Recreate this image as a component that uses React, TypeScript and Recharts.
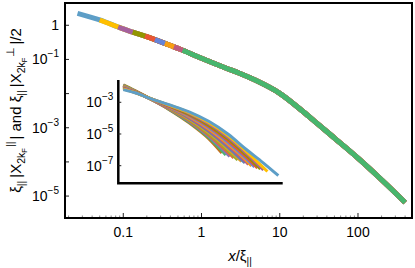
import React from 'react';
import { LineChart, Line, XAxis, YAxis } from 'recharts';

const FONT = '"Liberation Sans", Arial, sans-serif';
const W = 415;
const H = 268;

// big panel: one scaling curve, drawn by several overlapping pieces
const mainX = [0.026, 0.05, 0.086, 0.1, 0.132, 0.19, 0.254, 0.34, 0.444, 0.5, 0.574, 1, 2, 3, 5, 10, 20, 30, 50, 100, 200, 400];
const mainY = [2.24, 1.43, 0.89, 0.78, 0.63, 0.48, 0.38, 0.295, 0.234, 0.21, 0.186, 0.108, 0.057, 0.04, 0.024, 0.0102, 2.95e-3, 1.35e-3, 5.0e-4, 1.29e-4, 3.0e-5, 6.5e-6];
const mainStarts = [0.026, 0.05, 0.086, 0.132, 0.19, 0.254, 0.34, 0.444, 0.574];
const mainColors = ['#5D9EC7', '#FFBF00', '#A5609D', '#929600', '#E95536', '#6685D9', '#F89F13', '#BC5B80', '#47B66D'];

const mainXTicks = [0.1, 1, 10, 100];
const mainXLabels = [['0.1', ''], ['1', ''], ['10', ''], ['100', '']];
const mainXMinor = [0.02, 0.03, 0.04, 0.05, 0.06, 0.07, 0.08, 0.09, 0.2, 0.3, 0.4, 0.5, 0.6, 0.7, 0.8, 0.9, 2, 3, 4, 5, 6, 7, 8, 9, 20, 30, 40, 50, 60, 70, 80, 90, 200, 300, 400];
const mainYTicks = [1, 0.1, 0.01, 1e-3, 1e-4, 1e-5];
const mainYLabels = [['1', ''], ['10', '−1'], ['', ''], ['10', '−3'], ['', ''], ['10', '−5']];

// inset: raw curves, one row per curve at the shared x values, then its end point
const insetX = [10, 20, 53, 150, 500, 1600, 5000, 15000, 40000];
const insetY = [
  [1.26e-2, 5.4e-3, 1.51e-3, 3.55e-4, 5.01e-5, 5.01e-6],
  [1.2e-2, 5.2e-3, 1.52e-3, 3.72e-4, 5.62e-5, 6.03e-6],
  [1.15e-2, 5.1e-3, 1.53e-3, 3.89e-4, 6.31e-5, 7.24e-6, 5.01e-7],
  [1.1e-2, 5.0e-3, 1.54e-3, 4.07e-4, 7.08e-5, 8.71e-6, 7.08e-7],
  [1.05e-2, 4.9e-3, 1.55e-3, 4.37e-4, 7.94e-5, 1.02e-5, 9.33e-7],
  [1.0e-2, 4.8e-3, 1.56e-3, 4.57e-4, 8.91e-5, 1.23e-5, 1.17e-6],
  [9.5e-3, 4.7e-3, 1.57e-3, 4.79e-4, 1.0e-4, 1.48e-5, 1.51e-6],
  [9.1e-3, 4.6e-3, 1.58e-3, 5.01e-4, 1.12e-4, 1.78e-5, 1.91e-6, 1.66e-7],
  [8.7e-3, 4.5e-3, 1.59e-3, 5.25e-4, 1.26e-4, 2.14e-5, 2.4e-6, 2.14e-7],
  [8.3e-3, 4.4e-3, 1.6e-3, 5.5e-4, 1.41e-4, 2.57e-5, 3.02e-6, 2.75e-7],
  [7.9e-3, 4.3e-3, 1.61e-3, 5.75e-4, 1.58e-4, 3.09e-5, 3.89e-6, 3.55e-7],
  [7.6e-3, 4.3e-3, 1.62e-3, 6.17e-4, 1.78e-4, 3.63e-5, 4.9e-6, 4.68e-7],
  [7.2e-3, 4.2e-3, 1.63e-3, 6.46e-4, 2.0e-4, 4.37e-5, 6.17e-6, 6.03e-7],
  [6.8e-3, 4.1e-3, 1.64e-3, 6.76e-4, 2.24e-4, 5.25e-5, 7.94e-6, 7.76e-7, 8.1e-8],
  [6.3e-3, 4.0e-3, 1.66e-3, 7.08e-4, 2.51e-4, 6.31e-5, 1.0e-5, 1.05e-6, 1.58e-7],
];
const insetEndX = [3490, 4420, 5590, 7080, 8950, 11300, 13800, 17000, 20400, 24300, 29000, 34600, 41500, 52500, 100000];
const insetEndY = [6.3e-7, 4.8e-7, 3.8e-7, 3.1e-7, 2.3e-7, 1.86e-7, 1.48e-7, 1.2e-7, 9.5e-8, 8.3e-8, 7.1e-8, 6.2e-8, 5.4e-8, 4.3e-8, 2.4e-8];
const insetColors = ['#C56E1A', '#47B66D', '#8778B3', '#EB6235', '#8FB032', '#E19C24', '#5E81B5', '#BC5B80', '#F89F13', '#6685D9', '#E95536', '#929600', '#A5609D', '#FFBF00', '#5D9EC7'];

const insetXTicks = [10, 1000, 1e5];
const insetXLabels = [['10', ''], ['1000', ''], ['10', '5']];
const insetYTicks = [1e-3, 1e-5, 1e-7];
const insetYLabels = [['10', '−3'], ['10', '−5'], ['10', '−7']];

// layout of the big panel: margins and axis sizes
const TOP = 3;
const RIGHT = 3;
const LEFT_W = 65;
const BOTTOM_H = 50;

type Side = 'bottom' | 'top' | 'left' | 'right';

// draws inward tick marks, and the label when there is one
const makeTick =
  (side: Side, majors: number[], labels: string[][] | null, len: number, minorLen: number, gap: number) =>
  (props: any) => {
    const { x, y, payload } = props;
    const i = majors.indexOf(payload.value);
    const l = i >= 0 ? len : minorLen;
    let x2 = x;
    let y2 = y;
    if (side === 'bottom') y2 = y - l;
    if (side === 'top') y2 = y + l;
    if (side === 'left') x2 = x + l;
    if (side === 'right') x2 = x - l;
    const lab = labels && i >= 0 ? labels[i] : null;
    return (
      <g>
        <path d={`M${x},${y}L${x2},${y2}`} stroke={i >= 0 ? '#222' : '#888'} strokeWidth={1} fill="none" />
        {lab && lab[0] && (
          <text
            x={side === 'left' ? x - gap : x}
            y={side === 'bottom' ? y + gap : y}
            textAnchor={side === 'left' ? 'end' : 'middle'}
            dominantBaseline="central"
            fontFamily={FONT}
            fontSize={14}
            fill="#000"
          >
            {lab[0]}
            {lab[1] && (
              <tspan dy={-6} fontSize={10}>
                {lab[1]}
              </tspan>
            )}
          </text>
        )}
      </g>
    );
  };

const xDomain = [0.018, 490];
const yDomain = [2.28e-6, 4.49];
const inXDomain = [7.43, 1.3e5];
const inYDomain = [7.76e-9, 0.0255];

// inset axes follow the domain corners, so they go through the same scales
const insetFrame = [
  { x: inXDomain[0], y: inYDomain[1] },
  { x: inXDomain[0], y: inYDomain[0] },
  { x: inXDomain[1], y: inYDomain[0] },
];

export default function App() {
  const mainData = mainX.map((x, i) => ({ x, y: mainY[i] }));
  const insetData = insetY.map((row, k) => [
    ...row.map((y, i) => ({ x: insetX[i], y })),
    { x: insetEndX[k], y: insetEndY[k] },
  ]);
  const layer = { position: 'absolute' as const, left: 0, top: 0 };

  return (
    <div style={{ position: 'absolute', left: 0, top: 0, width: W, height: H, background: '#fff' }}>
      {/* big panel */}
      <div style={layer}>
        <LineChart width={W} height={H} margin={{ top: TOP, right: RIGHT, bottom: 0, left: 0 }}>
          <XAxis
            dataKey="x"
            type="number"
            scale="log"
            domain={xDomain}
            ticks={[...mainXTicks, ...mainXMinor]}
            interval={0}
            height={BOTTOM_H}
            tickSize={0}
            tickMargin={0}
            tickLine={false}
            axisLine={false}
            tick={makeTick('bottom', mainXTicks, mainXLabels, 5, 2.5, 13.5)}
          />
          <YAxis
            type="number"
            scale="log"
            domain={yDomain}
            ticks={mainYTicks}
            interval={0}
            width={LEFT_W}
            tickSize={0}
            tickMargin={0}
            tickLine={false}
            axisLine={false}
            tick={makeTick('left', mainYTicks, mainYLabels, 4, 4, 6)}
          />
          {mainStarts.map((s, i) => (
            <Line
              key={i}
              data={mainData.filter((p) => p.x >= s)}
              dataKey="y"
              type="monotone"
              stroke={mainColors[i]}
              strokeWidth={5}
              dot={false}
              isAnimationActive={false}
            />
          ))}
        </LineChart>
      </div>

      {/* ticks on the top and right edges */}
      <div style={layer}>
        <LineChart width={W} height={H} margin={{ top: TOP, right: RIGHT, bottom: BOTTOM_H, left: LEFT_W }}>
          <XAxis
            orientation="top"
            dataKey="x"
            type="number"
            scale="log"
            domain={xDomain}
            ticks={[...mainXTicks, ...mainXMinor]}
            interval={0}
            height={0}
            tickSize={0}
            tickMargin={0}
            tickLine={false}
            axisLine={false}
            tick={makeTick('top', mainXTicks, null, 5, 2.5, 0)}
          />
          <YAxis
            orientation="right"
            type="number"
            scale="log"
            domain={yDomain}
            ticks={mainYTicks}
            interval={0}
            width={0}
            tickSize={0}
            tickMargin={0}
            tickLine={false}
            axisLine={false}
            tick={makeTick('right', mainYTicks, null, 4, 4, 0)}
          />
        </LineChart>
      </div>

      {/* inset */}
      <div style={layer}>
        <LineChart width={W} height={H} margin={{ top: 80, right: 132.3, bottom: 84.7, left: 0 }}>
          <XAxis
            dataKey="x"
            type="number"
            scale="log"
            domain={inXDomain}
            ticks={insetXTicks}
            interval={0}
            height={0}
            tickSize={0}
            tickMargin={0}
            tickLine={false}
            axisLine={false}
            tick={makeTick('bottom', insetXTicks, insetXLabels, 3, 3, 13.5)}
          />
          <YAxis
            type="number"
            scale="log"
            domain={inYDomain}
            ticks={insetYTicks}
            interval={0}
            width={118.3}
            tickSize={0}
            tickMargin={0}
            tickLine={false}
            axisLine={false}
            tick={makeTick('left', insetYTicks, insetYLabels, 3, 3, 5)}
          />
          {insetData.map((d, k) => (
            <Line
              key={k}
              data={d}
              dataKey="y"
              type="monotone"
              stroke={insetColors[k]}
              strokeWidth={3}
              dot={false}
              isAnimationActive={false}
            />
          ))}
          <Line
            data={insetFrame}
            dataKey="y"
            type="linear"
            stroke="#000"
            strokeWidth={2.5}
            strokeLinejoin="miter"
            dot={false}
            activeDot={false}
            isAnimationActive={false}
          />
        </LineChart>
      </div>

      {/* frame round the plot area, as a plain bordered box */}
      <div
        style={{
          position: 'absolute',
          left: LEFT_W - 1,
          top: TOP - 1,
          width: W - LEFT_W - RIGHT + 2,
          height: H - TOP - BOTTOM_H + 2,
          border: '2px solid #000',
          boxSizing: 'border-box',
          pointerEvents: 'none',
        }}
      />

      {/* axis titles */}
      <svg width={W} height={H} style={{ ...layer, pointerEvents: 'none' }}>
        <text x={240} y={261} textAnchor="middle" fontFamily={FONT} fontSize={15} fill="#000">
          <tspan fontStyle="italic">x</tspan>/ξ
          <tspan fontSize={10} dy={4}>||</tspan>
        </text>
        <text transform="translate(21 110.5) rotate(-90)" textAnchor="middle" fontFamily={FONT} fontSize={15} fill="#000">
          ξ<tspan fontSize={10.5} dy={4}>||</tspan>
          <tspan dx={3} dy={-4}>|X</tspan>
          <tspan fontSize={10.5} dy={4}>2k</tspan>
          <tspan fontSize={7.5} dy={2}>F</tspan>
          <tspan fontSize={10.5} dy={-13} dx={1}>||</tspan>
          <tspan dy={7} dx={2}>| and ξ</tspan>
          <tspan fontSize={10.5} dy={4}>||</tspan>
          <tspan dx={3} dy={-4}>|X</tspan>
          <tspan fontSize={10.5} dy={4}>2k</tspan>
          <tspan fontSize={7.5} dy={2}>F</tspan>
          <tspan fontSize={10.5} dy={-13} dx={1}>⊥</tspan>
          <tspan dy={7} dx={2}>|/2</tspan>
        </text>
      </svg>
    </div>
  );
}
